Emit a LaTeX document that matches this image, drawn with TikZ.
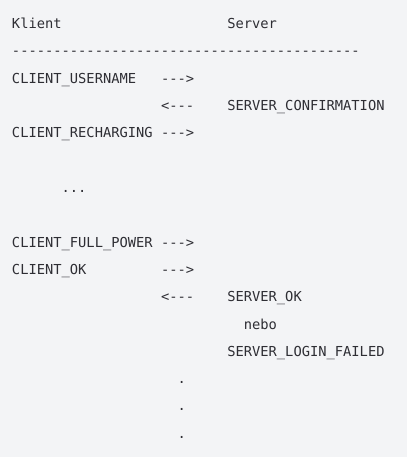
\documentclass[tikz,border=0pt]{standalone}
\usepackage{fontspec}
\setmonofont{DejaVu Sans Mono}
\definecolor{bgc}{HTML}{F3F4F6}
\definecolor{txt}{HTML}{2E2E34}
\begin{document}
\begin{tikzpicture}[x=1pt,y=-1pt,
  code/.style={anchor=base west,inner sep=0pt,outer sep=0pt,text=txt,
    font=\fontsize{13.75}{16}\selectfont\ttfamily}]
\fill[bgc] (0,0) rectangle (407,457);
\useasboundingbox (0,0) rectangle (407,457);
\def\cw{8.28}
\def\lh{27.3}
\def\ya{28.7}
% line 1
\node[code] (klient) at (12+0*\cw, \ya+0*\lh) {Klient};
\node[code] (server) at (12+26*\cw, \ya+0*\lh) {Server};
% line 2
\node[code] (rule) at (12, \ya+1*\lh) {------------------------------------------};
% line 3
\node[code] (cuser) at (12, \ya+2*\lh) {CLIENT\_USERNAME};
\node[code] (a1) at (12+18*\cw, \ya+2*\lh) {--->};
% line 4
\node[code] (a2) at (12+18*\cw, \ya+3*\lh) {<---};
\node[code] (sconf) at (12+26*\cw, \ya+3*\lh) {SERVER\_CONFIRMATION};
% line 5
\node[code] (crech) at (12, \ya+4*\lh) {CLIENT\_RECHARGING};
\node[code] (a3) at (12+18*\cw, \ya+4*\lh) {--->};
% line 7
\node[code] (ell) at (12+6*\cw, \ya+6*\lh) {...};
% line 9
\node[code] (cfull) at (12, \ya+8*\lh) {CLIENT\_FULL\_POWER};
\node[code] (a4) at (12+18*\cw, \ya+8*\lh) {--->};
% line 10
\node[code] (cok) at (12, \ya+9*\lh) {CLIENT\_OK};
\node[code] (a5) at (12+18*\cw, \ya+9*\lh) {--->};
% line 11
\node[code] (a6) at (12+18*\cw, \ya+10*\lh) {<---};
\node[code] (sok) at (12+26*\cw, \ya+10*\lh) {SERVER\_OK};
% line 12
\node[code] (nebo) at (12+28*\cw, \ya+11*\lh) {nebo};
% line 13
\node[code] (sfail) at (12+26*\cw, \ya+12*\lh) {SERVER\_LOGIN\_FAILED};
% lines 14-16
\node[code] (d1) at (12+20*\cw, \ya+13*\lh) {.};
\node[code] (d2) at (12+20*\cw, \ya+14*\lh) {.};
\node[code] (d3) at (12+20*\cw, \ya+15*\lh) {.};
\end{tikzpicture}
\end{document}
